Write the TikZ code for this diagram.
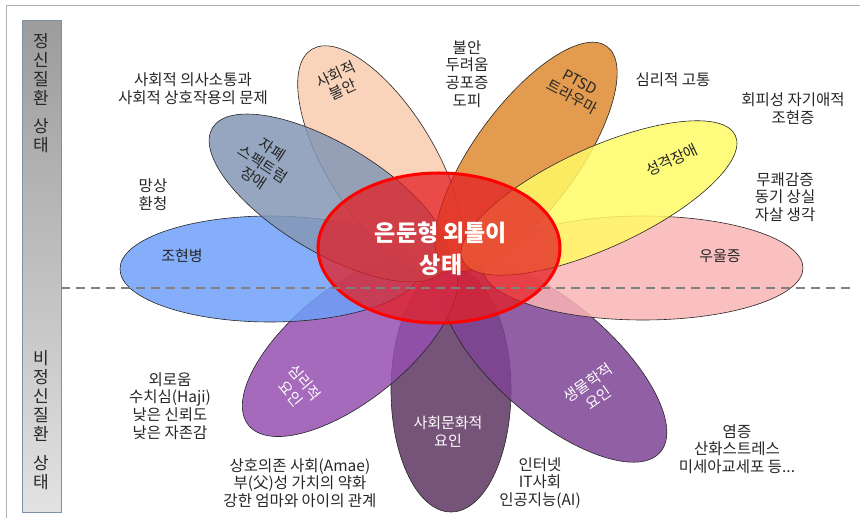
\documentclass[tikz,border=0pt]{standalone}
\usepackage{fontspec}
\setmainfont{Noto Sans CJK KR}
\usetikzlibrary{shapes.geometric}
\definecolor{txtc}{HTML}{262626}
\definecolor{cblue}{HTML}{6FA0F8}
\definecolor{cpink}{HTML}{F9B4B4}
\definecolor{cyellow}{HTML}{FFFA66}
\definecolor{corange}{HTML}{DE8A30}
\definecolor{csalmon}{HTML}{F8CCAE}
\definecolor{cslate}{HTML}{8497B5}
\definecolor{clpurple}{HTML}{9550B0}
\definecolor{cplum}{HTML}{5E3560}
\definecolor{cmpurple}{HTML}{7E4494}
\definecolor{cred}{HTML}{E41E24}
\definecolor{barb}{HTML}{7F8FA8}
\definecolor{bartop}{HTML}{9C9C9C}
\definecolor{barbot}{HTML}{E2E2E2}
\begin{document}
\begin{tikzpicture}[x=1pt,y=-1pt,
  petal/.style={ellipse, draw=black!85, line width=0.6pt, fill opacity=0.85, inner sep=0pt},
  ptxt/.style={font=\fontsize{15}{17}\selectfont, align=center, text=txtc},
  wtxt/.style={font=\fontsize{15}{18}\selectfont, align=center, text=white},
  otxt/.style={font=\fontsize{15.5}{17.7}\selectfont, align=center, text=txtc},
  bartxt/.style={font=\fontsize{17}{19}\selectfont, align=center, text=txtc},
  coretxt/.style={font=\fontsize{23}{32}\selectfont\bfseries, align=center, text=white},
  dashline/.style={draw=gray, line width=1.6pt, dash pattern=on 9pt off 6pt}
]
\useasboundingbox (0,0) rectangle (860,518);
\coordinate (fbl) at (6,518);
\coordinate (ftl) at (6,5);
\coordinate (ftr) at (860,5);
\draw[black!30, line width=0.8pt] (fbl) -- (ftl) -- (ftr);

% side bar
\node[draw=barb, line width=0.8pt, top color=bartop, bottom color=barbot, minimum width=39pt, minimum height=492pt, inner sep=0pt, anchor=north west] (bar) at (22,20) {};
\node[bartxt] (bt1) at (41,93) {정\\신\\질\\환\\[9pt]상\\태};
\node[bartxt] (bt2) at (41,420) {비\\정\\신\\질\\환\\[10pt]상\\태};

% petals
\node[petal, fill=cplum, minimum width=244pt, minimum height=120pt, rotate=90] (pplum) at (451,390) {};
\node[petal, fill=cmpurple, minimum width=280pt, minimum height=116pt, rotate=-40.6] (pmp) at (554,361) {};
\node[petal, fill=clpurple, minimum width=260pt, minimum height=114pt, rotate=38.6] (plp) at (350,344) {};
\node[petal, fill=cpink, minimum width=320pt, minimum height=104pt] (ppink) at (643,268) {};
\node[petal, fill=cblue, minimum width=300pt, minimum height=106pt] (pblue) at (270,269) {};
\node[petal, fill=csalmon, minimum width=260pt, minimum height=108pt, rotate=-58.3] (psal) at (380,160) {};
\node[petal, fill=cslate, minimum width=272pt, minimum height=108pt, rotate=-31] (pslate) at (329,198) {};
\node[petal, fill=corange, minimum width=274pt, minimum height=104pt, rotate=53.8] (porg) at (526,157) {};
\node[petal, fill=cyellow, minimum width=300pt, minimum height=100pt, rotate=24.6] (pyel) at (599,198) {};

% core
\node[ellipse, draw=red, line width=3pt, fill=cred, fill opacity=0.75, minimum width=242pt, minimum height=150pt, inner sep=0pt] (core) at (439,248) {};
\node[coretxt] (coret) at (441,249) {은둔형 외톨이\\상태};

% dashed divider
\coordinate (dl) at (61,288);
\coordinate (dr) at (855,288);
\draw[dashline] (dl) -- (dr);

% petal labels
\node[ptxt] (lsal) at (339,82) [rotate=25] {사회적\\불안};
\node[ptxt] (lslate) at (263,164) [rotate=-33] {자폐\\스펙트럼\\장애};
\node[ptxt] (lorg) at (576,90) [rotate=-28] {PTSD\\트라우마};
\node[ptxt] (lyel) at (672,160) [rotate=25] {성격장애};
\node[ptxt] (lblue) at (182,256) {조현병};
\node[ptxt] (lpink) at (720,256) {우울증};
\node[wtxt] (llp) at (298,388) [rotate=-50] {심리적\\요인};
\node[wtxt] (lplum) at (448,432) {사회문화적\\요인};
\node[wtxt] (lmp) at (593,390) [rotate=35] {생물학적\\요인};

% outer texts
\node[otxt] (o1) at (193,89) {사회적 의사소통과\\사회적 상호작용의 문제};
\node[otxt] (o2) at (153,195) {망상\\환청};
\node[otxt] (o3) at (467,74) {불안\\두려움\\공포증\\도피};
\node[otxt] (o4) at (673,80) {심리적 고통};
\node[otxt] (o5) at (793,109) {회피성 자기애적\\조현증};
\node[otxt] (o6) at (785,197) {무쾌감증\\동기 상실\\자살 생각};
\node[otxt] (o7) at (170,406) {외로움\\수치심(Haji)\\낮은 신뢰도\\낮은 자존감};
\node[otxt] (o8) at (300,483) {상호의존 사회(Amae)\\부(父)성 가치의 약화\\강한 엄마와 아이의 관계};
\node[otxt] (o9) at (540,483) {인터넷\\IT사회\\인공지능(AI)};
\node[otxt] (o10) at (737,449) {염증\\산화스트레스\\미세아교세포 등...};
\end{tikzpicture}
\end{document}
